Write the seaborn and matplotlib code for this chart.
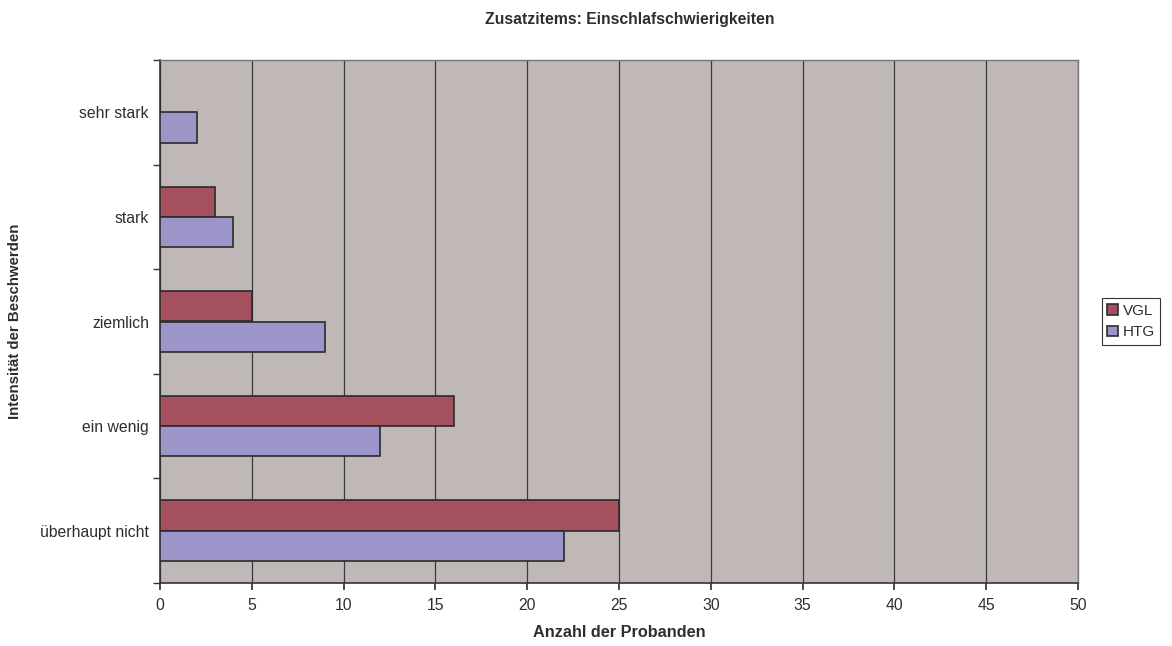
import seaborn as sns
import pandas as pd
import matplotlib.pyplot as plt
from matplotlib.ticker import FixedLocator

categories = ["sehr stark", "stark", "ziemlich", "ein wenig", "überhaupt nicht"]
vgl = [0, 3, 5, 16, 25]
htg = [2, 4, 9, 12, 22]
groups = ["VGL", "HTG"]

df = pd.DataFrame({
    "Intensität": categories * 2,
    "Anzahl": vgl + htg,
    "Gruppe": ["VGL"] * len(categories) + ["HTG"] * len(categories),
})

sns.set_theme(style="white")
plt.rcParams['font.family'] = ['Liberation Sans', 'DejaVu Sans']
txt = "#2e2e2e"

fig = plt.figure(figsize=(11.72, 6.46), dpi=100)
ax = fig.add_axes([160 / 1172, 1 - 583 / 646, 918 / 1172, 523 / 646])
ax.set_facecolor("#C0B8B7")

sns.barplot(data=df, x="Anzahl", y="Intensität", hue="Gruppe", order=categories,
            hue_order=groups, palette={"VGL": "#A5505F", "HTG": "#9B95C9"},
            orient="h", width=0.58, saturation=1, edgecolor="#2b2b2b", linewidth=1.2,
            ax=ax, zorder=3)

ax.set_xlim(0, 50)
ax.set_ylim(4.5, -0.5)
ax.set_xticks(range(0, 51, 5))
ax.xaxis.grid(True, color="#3a3a3a", linewidth=0.9, zorder=0)
ax.set_axisbelow(True)
ax.tick_params(axis="x", which="major", length=5, direction="out", bottom=True,
               labelsize=11.3, labelcolor=txt, color="#333333", pad=6)
ax.tick_params(axis="y", which="major", length=0, labelsize=11.3, labelcolor=txt, pad=8)
ax.yaxis.set_minor_locator(FixedLocator([i - 0.5 for i in range(6)]))
ax.tick_params(axis="y", which="minor", length=5, direction="out", left=True,
               color="#333333")

for side in ["top", "right"]:
    ax.spines[side].set_color("#777777")
    ax.spines[side].set_linewidth(1.0)
for side in ["left", "bottom"]:
    ax.spines[side].set_color("#333333")
    ax.spines[side].set_linewidth(1.2)

ax.set_xlabel("Anzahl der Probanden", fontsize=11.7, fontweight="bold", color=txt)
ax.xaxis.set_label_coords(0.5, -(625 - 583) / 523)
ax.set_ylabel("Intensität der Beschwerden", fontsize=10.8, fontweight="bold", color=txt)
ax.yaxis.set_label_coords(-(160 - 22) / 918, 0.5)
fig.suptitle("Zusatzitems: Einschlafschwierigkeiten", x=630 / 1172,
             y=1 - 12 / 646, fontsize=11.3, fontweight="bold", va="top", color=txt)

leg = ax.legend(loc="center left", bbox_to_anchor=((1102 - 160) / 918, 0.5), fontsize=11,
                frameon=True, fancybox=False, edgecolor="black", handlelength=0.7,
                handleheight=0.7, handletextpad=0.3, borderpad=0.35, labelspacing=0.5,
                borderaxespad=0)
leg.get_frame().set_linewidth(0.8)
for t in leg.get_texts():
    t.set_color(txt)

fig.savefig("out.png", dpi=100)
